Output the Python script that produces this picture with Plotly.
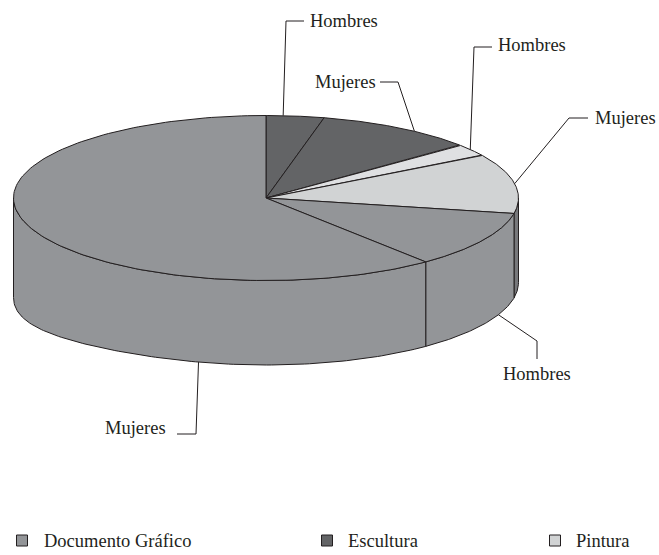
import numpy as np
import plotly.graph_objects as go

# Slices clockwise from twelve o'clock (percent of the pie)
slice_labels = ["Hombres", "Mujeres", "Hombres", "Mujeres", "Hombres", "Mujeres"]
slice_groups = ["Escultura", "Escultura", "Pintura", "Pintura", "Documento Gráfico", "Documento Gráfico"]
slice_values = [3.7, 10.2, 2.4, 11.7, 11.1, 60.9]
top_colors = ["#636466", "#636466", "#dfe0e2", "#d1d3d4", "#939598", "#939598"]
wall_colors = ["#636466", "#636466", "#dfe0e2", "#77787b", "#939598", "#939598"]

legend_names = ["Documento Gráfico", "Escultura", "Pintura"]
legend_colors = ["#939598", "#636466", "#d1d3d4"]
legend_marker_x = [22, 327, 555]
legend_text_x = [44, 348, 576]
legend_marker_y = 540.5
legend_text_y = 542.5

# Label placement: text position, leader attachment angle, elbow and end points
label_x = [310, 315, 498, 595, 503, 105]
label_y = [22, 83, 46, 119, 375, 429]
leader_angle = [3.9, 36.0, 54.0, 80.0, 113.0, 195.5]
leader_elbow = [(286, 21), (398, 82), (474, 47), (569, 118), (537, 341), (196, 434)]
leader_end = [(304, 21), (380, 82), (492, 47), (588, 118), (537, 359), (177, 434)]

CX, CY, RX, RY, DEPTH = 266, 198, 252.5, 82.5, 84.5
INK = "#231f20"
FONT = dict(family="Liberation Serif", size=18.5, color=INK)


def top_xy(t):
    r = np.radians(t)
    return CX + RX * np.sin(r), CY - RY * np.cos(r)


def bottom_xy(t):
    x, y = top_xy(t)
    s = np.maximum(0, -np.sin(np.radians(t)))
    return x, y + DEPTH + 15 * s ** 4


bounds = np.concatenate([[0], np.cumsum(slice_values)]) / sum(slice_values) * 360
fig = go.Figure()

# side walls (front half only)
for i in range(len(slice_values)):
    a, b = max(bounds[i], 90), min(bounds[i + 1], 270)
    if a >= b:
        continue
    t = np.linspace(a, b, 120)
    xt, yt = top_xy(t)
    xb, yb = bottom_xy(t[::-1])
    fig.add_trace(go.Scatter(
        x=np.r_[xt, xb, xt[0]], y=np.r_[yt, yb, yt[0]], mode="lines", fill="toself",
        fillcolor=wall_colors[i], line=dict(color=INK, width=1), hoverinfo="skip"))

# top surface wedges
for i in range(len(slice_values)):
    t = np.linspace(bounds[i], bounds[i + 1], 160)
    xt, yt = top_xy(t)
    fig.add_trace(go.Scatter(
        x=np.r_[CX, xt, CX], y=np.r_[CY, yt, CY], mode="lines", fill="toself",
        fillcolor=top_colors[i], line=dict(color=INK, width=1), hoverinfo="skip"))

# leaders
for i in range(len(slice_values)):
    t = leader_angle[i]
    x0, y0 = top_xy(t) if t < 90 else bottom_xy(t)
    fig.add_trace(go.Scatter(
        x=[x0, leader_elbow[i][0], leader_end[i][0]],
        y=[y0, leader_elbow[i][1], leader_end[i][1]],
        mode="lines", line=dict(color=INK, width=1), hoverinfo="skip"))

# slice labels
fig.add_trace(go.Scatter(
    x=label_x, y=label_y, mode="text", text=slice_labels, textposition="middle right",
    textfont=FONT, hoverinfo="skip", cliponaxis=False))

# legend
fig.add_trace(go.Scatter(
    x=legend_marker_x, y=[legend_marker_y] * 3, mode="markers",
    marker=dict(symbol="square", size=11, color=legend_colors, line=dict(color=INK, width=1)),
    hoverinfo="skip"))
fig.add_trace(go.Scatter(
    x=legend_text_x, y=[legend_text_y] * 3, mode="text", text=legend_names, textposition="middle right",
    textfont=FONT, hoverinfo="skip", cliponaxis=False))

fig.update_layout(
    width=659, height=555, margin=dict(l=0, r=0, t=0, b=0),
    paper_bgcolor="white", plot_bgcolor="white", showlegend=False,
    xaxis=dict(range=[0, 659], visible=False, fixedrange=True),
    yaxis=dict(range=[555, 0], visible=False, fixedrange=True),
)
fig.write_html("out.html", config={"displayModeBar": False},
               post_script="document.body.style.margin='0';document.body.style.overflow='hidden';")
